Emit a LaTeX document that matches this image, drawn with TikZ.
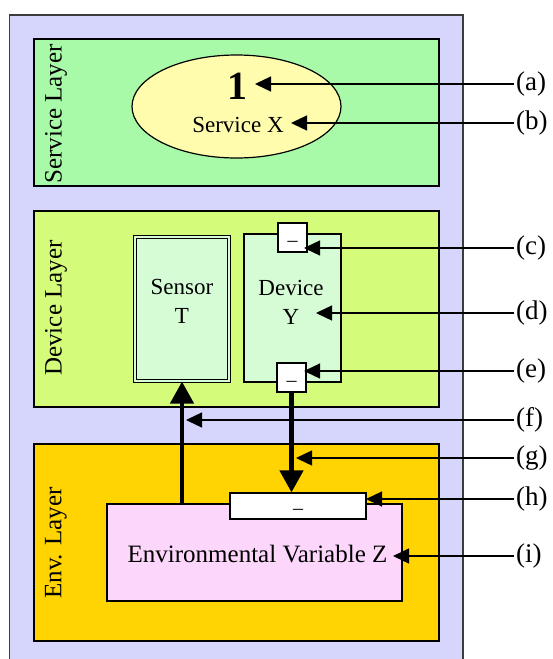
\documentclass[tikz,border=0pt]{standalone}
\usepackage{fontspec}
\setmainfont{Liberation Serif}
\usetikzlibrary{arrows.meta,shapes.geometric}
\definecolor{lav}{RGB}{214,214,252}
\definecolor{svcgreen}{RGB}{168,250,168}
\definecolor{ellyellow}{RGB}{255,252,173}
\definecolor{devgreen}{RGB}{213,251,123}
\definecolor{boxgreen}{RGB}{214,252,214}
\definecolor{envorange}{RGB}{255,212,0}
\definecolor{envpink}{RGB}{253,214,252}
\definecolor{outline}{RGB}{60,60,60}
\newcommand{\portdash}{\raisebox{-8.5pt}[0pt][0pt]{–}}
\begin{document}
\begin{tikzpicture}[x=1pt,y=-1pt,
  layer/.style={draw=black, line width=1.2pt, inner sep=0pt},
  lbl/.style={anchor=west, inner sep=2pt, font=\fontsize{27}{30}\selectfont},
  pointer/.style={draw, line width=1.3pt, -{Triangle[length=16pt,width=15pt]}},
  flow/.style={draw, line width=4.5pt, -{Triangle[length=22pt,width=23pt]}},
  txt/.style={font=\fontsize{23}{29}\selectfont, align=center, inner sep=0pt},
  layername/.style={rotate=90, font=\fontsize{25}{27}\selectfont, inner sep=0pt},
  port/.style={draw, line width=1.2pt, fill=white, inner sep=0pt, font=\fontsize{20}{20}\selectfont}]
\useasboundingbox (0,0) rectangle (553,659);
\clip (0,0) rectangle (553,659);
% outer container
\draw[draw=outline, line width=1.5pt, fill=lav] (9.5,15) rectangle (463,690);
% layers
\node[layer, fill=svcgreen, minimum width=405pt, minimum height=147pt] (svl) at (236.5,112.5) {};
\node[layer, fill=devgreen, minimum width=405pt, minimum height=196pt] (dvl) at (236.5,309) {};
\node[layer, fill=envorange, minimum width=405pt, minimum height=197pt] (envl) at (236.5,542.5) {};
\node[layername] (svlname) at (56,114) {Service Layer};
\node[layername] (dvlname) at (56,308) {Device Layer};
\node[layername] (envlname) at (56,543) {Env. Layer};
% service
\node[draw, line width=1.2pt, fill=ellyellow, ellipse, minimum width=209pt, minimum height=103pt, inner sep=0pt] (svc) at (236.5,106.5) {};
\node[inner sep=0pt, font=\fontsize{40}{40}\selectfont\bfseries] (one) at (237,86) {1};
\node[txt] (svcname) at (238,125) {Service X};
% devices
\node[draw, line width=1.1pt, double=boxgreen, double distance=1.8pt, fill=boxgreen, minimum width=94pt, minimum height=144pt, inner sep=0pt] (sensor) at (182,309) {};
\node[txt] (sensortxt) at (182,301) {Sensor\\T};
\node[draw, line width=1.2pt, fill=boxgreen, minimum width=97pt, minimum height=148pt, inner sep=0pt] (device) at (292.5,308) {};
\node[txt] (devicetxt) at (291,302) {Device\\Y};
\node[port, minimum width=29pt, minimum height=29pt] (portc) at (292.5,237.5) {\portdash};
\node[port, minimum width=29pt, minimum height=29pt] (porte) at (291.5,377.5) {\portdash};
% environment
\node[draw, line width=1.2pt, fill=envpink, minimum width=295pt, minimum height=97pt, inner sep=0pt] (envvar) at (254.5,552.5) {};
\node[txt, font=\fontsize{25}{29}\selectfont] (envtxt) at (257.5,554) {Environmental Variable Z};
\node[port, minimum width=136pt, minimum height=26pt] (porth) at (298,506) {\portdash};
% flows
\draw[flow] (sensor.south |- envvar.north) -- (sensor.south);
\draw[flow] (porte.south) -- (porte.south |- porth.north);
% pointer labels
\node[lbl] (la) at (514,84) {(a)};
\node[lbl] (lb) at (514,123) {(b)};
\node[lbl] (lc) at (514,248) {(c)};
\node[lbl] (ld) at (514,313) {(d)};
\node[lbl] (le) at (514,371) {(e)};
\node[lbl] (lf) at (514,420) {(f)};
\node[lbl] (lg) at (514,458) {(g)};
\node[lbl] (lh) at (514,499) {(h)};
\node[lbl] (li) at (514,556) {(i)};
\coordinate (ta) at (255,84);
\coordinate (tb) at (291,123);
\coordinate (tc) at (304,248);
\coordinate (td) at (316,313);
\coordinate (te) at (304,371);
\coordinate (tf) at (186,420);
\coordinate (tg) at (296,458);
\coordinate (th) at (366,499);
\coordinate (ti) at (393,556);
\draw[pointer] (la.west) -- (ta);
\draw[pointer] (lb.west) -- (tb);
\draw[pointer] (lc.west) -- (tc);
\draw[pointer] (ld.west) -- (td);
\draw[pointer] (le.west) -- (te);
\draw[pointer] (lf.west) -- (tf);
\draw[pointer] (lg.west) -- (tg);
\draw[pointer] (lh.west) -- (th);
\draw[pointer] (li.west) -- (ti);
\end{tikzpicture}
\end{document}
